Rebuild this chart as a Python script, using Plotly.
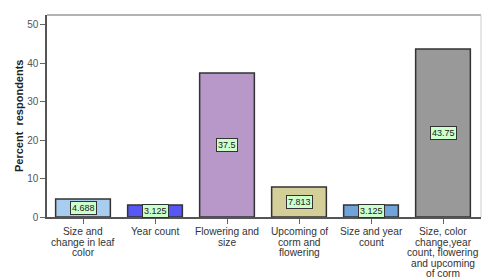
import plotly.graph_objects as go

categories = [
    "Size and change in leaf color",
    "Year count",
    "Flowering and size",
    "Upcoming of corm and flowering",
    "Size and year count",
    "Size, color change,year count, flowering and upcoming of corm",
]
category_lines = [
    ["Size and", "change in leaf", "color"],
    ["Year count"],
    ["Flowering and", "size"],
    ["Upcoming of", "corm and", "flowering"],
    ["Size and year", "count"],
    ["Size, color", "change,year", "count, flowering", "and upcoming", "of corm"],
]
values = [4.688, 3.125, 37.5, 7.813, 3.125, 43.75]
value_labels = ["4.688", "3.125", "37.5", "7.813", "3.125", "43.75"]
colors = ["#a8cdee", "#5757f5", "#b897c9", "#d4cf98", "#6fa3da", "#999999"]

fig = go.Figure()
fig.add_trace(go.Bar(
    x=categories, y=values, width=0.76,
    marker=dict(color=colors, line=dict(color="#333333", width=1.5)),
    hoverinfo="skip",
))
for c, v, t in zip(categories, values, value_labels):
    fig.add_annotation(x=c, y=v / 2, text=t, showarrow=False,
                       bgcolor="#ccffcc", bordercolor="#333333", borderwidth=1,
                       borderpad=1, font=dict(size=9, color="#222222", family="Arial"))

for c, lines in zip(categories, category_lines):
    for i, line in enumerate(lines):
        fig.add_annotation(x=c, y=0, yref="paper", text=line, showarrow=False,
                           xanchor="center", yanchor="middle",
                           yshift=-14.5 - i * 10.6,
                           font=dict(size=10.2, color="#333333", family="Arial"))

fig.add_annotation(xref="paper", yref="paper", x=0, y=0.5, xshift=-28,
                   text="<b>Percent  respondents</b>", textangle=-90, showarrow=False,
                   xanchor="center", yanchor="middle",
                   font=dict(size=11, color="#222222", family="Arial"))

fig.update_layout(
    width=483, height=278,
    margin=dict(l=47, r=2, t=15, b=61),
    plot_bgcolor="white", paper_bgcolor="white",
    showlegend=False,
    font=dict(family="Arial", size=10, color="#333333"),
    xaxis=dict(showline=True, linecolor="#555555", linewidth=1.5, mirror=False,
               ticks="outside", ticklen=5, tickcolor="#666666", tickwidth=1,
               showticklabels=False, showgrid=False, automargin=False),
    yaxis=dict(range=[0, 52.6], tickvals=[0, 10, 20, 30, 40, 50],
               showline=True, linecolor="#555555", linewidth=1.5,
               ticks="outside", ticklen=5, tickcolor="#666666",
               tickfont=dict(size=10, color="#555555"), showgrid=False,
               automargin=False),
    shapes=[
        dict(type="line", xref="paper", yref="paper", x0=0, x1=1, y0=1, y1=1,
             line=dict(color="#999999", width=1.5)),
        dict(type="line", xref="paper", yref="paper", x0=1, x1=1, y0=0, y1=1,
             line=dict(color="#cccccc", width=1)),
    ],
)

fig.write_html("out.html", config={"displayModeBar": False},
               post_script="document.body.style.margin='0';document.body.style.overflow='hidden';")
